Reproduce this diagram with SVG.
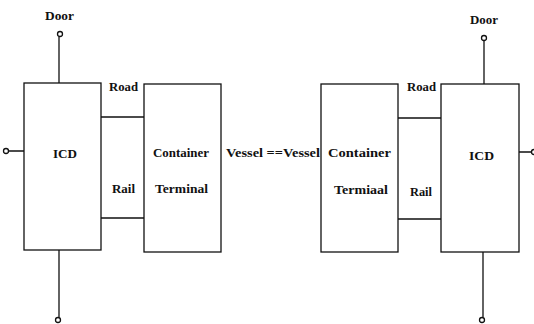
<svg xmlns="http://www.w3.org/2000/svg" width="534" height="324" viewBox="0 0 534 324">
<style>
.box{fill:none;stroke:#111;stroke-width:1.3}
.ln{fill:none;stroke:#111;stroke-width:1.3}
.pt{fill:#fff;stroke:#111;stroke-width:1.3}
text{font-family:'Liberation Serif','Times New Roman','DejaVu Serif',serif;font-weight:bold;font-size:13px;fill:#111}
</style>
<rect width="534" height="324" fill="#fff"/>
<g id="icd-left">
<rect class="box" x="24" y="83" width="77" height="167"/>
<text x="53" y="158" textLength="24" lengthAdjust="spacingAndGlyphs">ICD</text>
</g>
<g id="terminal-left">
<rect class="box" x="144" y="84" width="77" height="168"/>
<text x="153" y="157" textLength="56" lengthAdjust="spacingAndGlyphs">Container</text>
<text x="155" y="193" textLength="53" lengthAdjust="spacingAndGlyphs">Terminal</text>
</g>
<g id="terminal-right">
<rect class="box" x="321" y="84" width="77" height="168"/>
<text x="328" y="157" textLength="63" lengthAdjust="spacingAndGlyphs">Container</text>
<text x="334" y="194" textLength="54" lengthAdjust="spacingAndGlyphs">Termiaal</text>
</g>
<g id="icd-right">
<rect class="box" x="441" y="84" width="78" height="168"/>
<text x="469" y="160" textLength="25" lengthAdjust="spacingAndGlyphs">ICD</text>
</g>
<g id="door-left-top">
<circle class="pt" cx="60" cy="34" r="2.5"/>
<text x="45" y="20" textLength="29" lengthAdjust="spacingAndGlyphs">Door</text>
</g>
<g id="door-left-side"><circle class="pt" cx="6" cy="151" r="2.5"/></g>
<g id="door-left-bottom"><circle class="pt" cx="58" cy="320" r="2.5"/></g>
<g id="door-right-top">
<circle class="pt" cx="484" cy="38" r="2.5"/>
<text x="470" y="24" textLength="28" lengthAdjust="spacingAndGlyphs">Door</text>
</g>
<g id="door-right-side"><circle class="pt" cx="534" cy="152" r="2.5"/></g>
<g id="door-right-bottom"><circle class="pt" cx="482" cy="320" r="2.5"/></g>
<g id="connectors">
<path class="ln" d="M59,37 V83 M9,151 H24 M59,250 V317"/>
<path class="ln" d="M101,117 H144 M101,218 H144"/>
<path class="ln" d="M398,118 H441 M398,219 H441"/>
<path class="ln" d="M484,41 V84 M519,152 H531 M483,252 V317"/>
<text x="109" y="91" textLength="29" lengthAdjust="spacingAndGlyphs">Road</text>
<text x="112" y="193" textLength="23" lengthAdjust="spacingAndGlyphs">Rail</text>
<text x="407" y="91" textLength="29" lengthAdjust="spacingAndGlyphs">Road</text>
<text x="410" y="196" textLength="22" lengthAdjust="spacingAndGlyphs">Rail</text>
<text x="226" y="157" textLength="94" lengthAdjust="spacingAndGlyphs">Vessel ==Vessel</text>
</g>
</svg>
